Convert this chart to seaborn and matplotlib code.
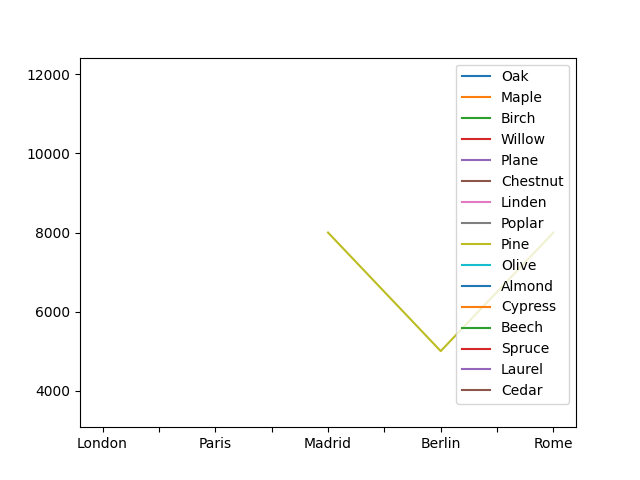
import numpy as np
import pandas as pd
import matplotlib
matplotlib.use("Agg")
import matplotlib.pyplot as plt
import seaborn as sns

cities = ["London", "Paris", "Madrid", "Berlin", "Rome"]
species = ["Oak", "Maple", "Birch", "Willow", "Plane", "Chestnut", "Linden",
           "Poplar", "Pine", "Olive", "Almond", "Cypress", "Beech", "Spruce",
           "Laurel", "Cedar"]
nan = np.nan
values = {
    "Oak":      [12000, nan, nan, nan, nan],
    "Maple":    [nan, 3500, nan, nan, nan],
    "Birch":    [nan, nan, nan, nan, nan],
    "Willow":   [nan, nan, nan, nan, nan],
    "Plane":    [nan, nan, nan, nan, nan],
    "Chestnut": [nan, nan, nan, nan, nan],
    "Linden":   [nan, nan, nan, nan, nan],
    "Poplar":   [nan, nan, nan, nan, nan],
    "Pine":     [nan, nan, 8000, 5000, 8000],
    "Olive":    [nan, nan, nan, nan, nan],
    "Almond":   [nan, nan, nan, nan, nan],
    "Cypress":  [nan, nan, nan, nan, nan],
    "Beech":    [nan, nan, nan, nan, nan],
    "Spruce":   [nan, nan, nan, nan, nan],
    "Laurel":   [nan, nan, nan, nan, nan],
    "Cedar":    [nan, nan, nan, nan, nan],
}

tab10 = plt.rcParams["axes.prop_cycle"].by_key()["color"]
palette = {s: tab10[i % len(tab10)] for i, s in enumerate(species)}

fig, ax = plt.subplots(figsize=(6.4, 4.8), dpi=100)
xpos = np.arange(len(cities))
for s in species:
    df = pd.DataFrame({"x": xpos, "y": values[s]})
    sns.lineplot(data=df, x="x", y="y", color=palette[s], ax=ax, label=s)

ticks = np.arange(0, len(cities) - 1 + 0.01, 0.5)
ax.set_xticks(ticks)
ax.set_xticklabels([cities[int(t)] if float(t).is_integer() else "" for t in ticks])
ax.set_xlim(-0.2, len(cities) - 1 + 0.2)
ax.set_xlabel("")
ax.set_ylabel("")
ax.legend(loc="upper right")

fig.savefig("out.png", dpi=100)
